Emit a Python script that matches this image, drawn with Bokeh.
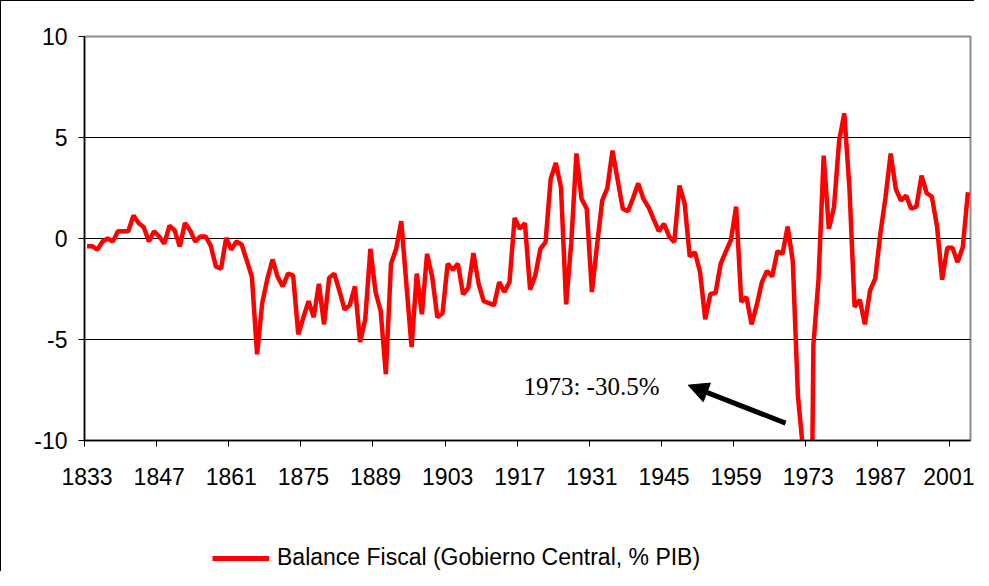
from bokeh.plotting import figure
from bokeh.layouts import column
from bokeh.models import (Range1d, FixedTicker, Legend, LegendItem, Label, Arrow,
                          NormalHead)
from bokeh.embed import file_html
from bokeh.resources import INLINE

# ---- data -------------------------------------------------------------
years = list(range(1833, 2005))
balance = [
    -0.38, -0.38, -0.55, -0.15, 0.00, -0.15, 0.36, 0.36, 0.36, 1.14,   # 1833-1842
    0.77, 0.56, -0.15, 0.36, 0.10, -0.26, 0.64, 0.40, -0.40, 0.77,      # 1843-1852
    0.40, -0.15, 0.10, 0.10, -0.35, -1.38, -1.50, 0.03, -0.55, -0.15,   # 1853-1862
    -0.30, -1.09, -1.90, -5.73, -3.20, -2.00, -1.04, -1.90, -2.37, -1.74,  # 1863-1872
    -1.83, -4.74, -3.90, -3.10, -3.90, -2.24, -4.25, -1.94, -1.74, -2.60,  # 1873-1882
    -3.52, -3.30, -2.37, -5.12, -4.00, -0.51, -2.65, -3.59, -6.72, -1.25,  # 1883-1892
    -0.51, 0.86, -2.30, -5.37, -1.74, -3.75, -0.76, -1.90, -3.90, -3.70,   # 1893-1902
    -1.25, -1.55, -1.25, -2.77, -2.44, -0.72, -2.24, -3.10, -3.20, -3.30,  # 1903-1912
    -2.16, -2.65, -2.16, 1.02, 0.48, 0.76, -2.53, -1.83, -0.51, -0.18,     # 1913-1922
    2.95, 3.74, 2.53, -3.26, -0.18, 4.21, 1.96, 1.47, -2.65, -0.35,        # 1923-1932
    1.88, 2.50, 4.35, 2.90, 1.47, 1.35, 2.00, 2.73, 1.96, 1.55,            # 1933-1942
    0.95, 0.36, 0.73, 0.10, -0.18, 2.62, 1.74, -0.89, -0.68, -1.66,        # 1943-1952
    -4.00, -2.75, -2.70, -1.25, -0.65, -0.07, 1.58, -3.14, -2.90, -4.25,   # 1953-1962
    -3.30, -2.16, -1.61, -1.88, -0.63, -0.76, 0.59, -1.12, -7.80, -10.50,  # 1963-1972
    -30.50, -5.28, -2.00, 4.10, 0.48, 1.55, 4.84, 6.19, 2.50, -3.39,       # 1973-1982
    -3.03, -4.25, -2.57, -1.99, 0.23, 2.04, 4.21, 2.45, 1.88, 2.12,        # 1983-1992
    1.47, 1.58, 3.11, 2.24, 2.07, 0.60, -2.04, -0.46, -0.46, -1.17,        # 1993-2002
    -0.43, 2.29,                                                          # 2003-2004
]
label_years = list(range(1833, 2005, 14))
y_ticks = [-10, -5, 0, 5, 10]
series_name = "Balance Fiscal (Gobierno Central, % PIB)"
note_text = "1973: -30.5%"

FONT = "Liberation Sans"
RED = "#ff0000"

p = figure(width=973, height=530, output_backend="svg", toolbar_location=None,
           x_range=Range1d(1832.5, 2004.5), y_range=Range1d(-10, 10),
           min_border_left=83, min_border_right=4, min_border_top=35,
           min_border_bottom=91, background_fill_color="white",
           border_fill_color="white")
p.outline_line_color = "#8c8c8c"
p.outline_line_width = 2

p.line(years, balance, line_color=RED, line_width=4.5)

# x axis: labels at categories, ticks at category boundaries
xa = p.xaxis[0]
xa.ticker = FixedTicker(ticks=label_years,
                        minor_ticks=[y - 0.5 for y in label_years])
xa.major_tick_line_color = None
xa.major_tick_out = 0
xa.major_tick_in = 0
xa.minor_tick_line_color = "black"
xa.minor_tick_out = 6
xa.minor_tick_in = 0
xa.axis_line_color = "black"
xa.axis_line_width = 1.5
xa.major_label_standoff = 21
xa.major_label_text_font = FONT
xa.major_label_text_font_size = "23px"
xa.major_label_text_color = "black"

ya = p.yaxis[0]
ya.ticker = FixedTicker(ticks=y_ticks)
ya.major_label_overrides = {-10: "-10", -5: "-5", 0: "0", 5: "5", 10: "10"}
ya.major_tick_out = 6
ya.major_tick_in = 0
ya.minor_tick_line_color = None
ya.axis_line_color = "black"
ya.axis_line_width = 1.5
ya.major_tick_line_color = "black"
ya.major_label_standoff = 11
ya.major_label_text_font = FONT
ya.major_label_text_font_size = "23px"
ya.major_label_text_color = "black"

p.xgrid.visible = False
p.ygrid.ticker = FixedTicker(ticks=[-5, 0, 5])
p.ygrid.grid_line_color = "black"
p.ygrid.grid_line_width = 1

# annotation
p.add_layout(Label(x=1917.7, y=-7.34, text=note_text,
                   text_font="Liberation Serif", text_font_size="25px",
                   text_color="black", text_baseline="alphabetic"))
p.add_layout(Arrow(x_start=1968.6, y_start=-9.14, x_end=1949.7, y_end=-7.26,
                   line_width=5, line_color="black",
                   end=NormalHead(size=20, fill_color="black",
                                  line_color="black", line_width=1)))

# legend strip below the chart (same series, drawn outside its own view range)
pl = figure(width=973, height=40, output_backend="svg", toolbar_location=None,
            x_range=Range1d(0, 1), y_range=Range1d(0, 1), min_border=0,
            background_fill_color="white", border_fill_color="white")
pl.axis.visible = False
pl.grid.visible = False
pl.outline_line_color = None
leg_line = pl.line(years, balance, line_color=RED, line_width=5)
legend = Legend(items=[LegendItem(label=series_name, renderers=[leg_line])],
                location=(128, 0), orientation="horizontal",
                glyph_width=57, glyph_height=22, label_standoff=8,
                padding=0, margin=0, border_line_color=None,
                background_fill_alpha=0, label_text_font=FONT,
                label_text_font_size="23px", label_text_color="black")
pl.add_layout(legend, "center")

layout = column(p, pl, spacing=0)
layout.styles = {"border-left": "1px solid black", "border-top": "1px solid black"}

open("out.html", "w").write(file_html(layout, INLINE))
